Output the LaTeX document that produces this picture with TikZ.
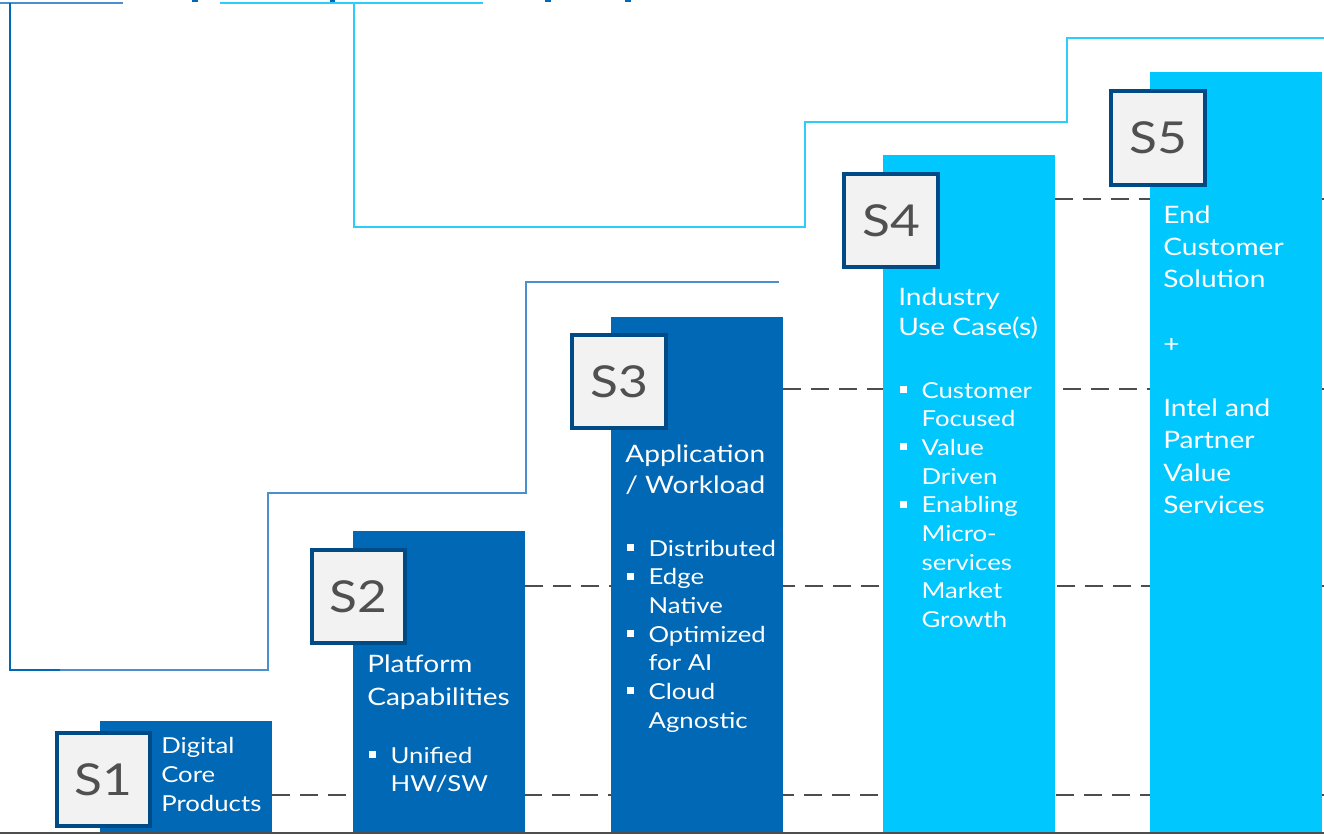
\documentclass[tikz,border=0pt]{standalone}
\usepackage{fontspec}
\setmainfont{Lato}[FakeStretch=1.17]
\definecolor{dblue}{HTML}{0068B5}
\definecolor{cblue}{HTML}{00C7FD}
\definecolor{sborder}{HTML}{004A86}
\definecolor{sfill}{HTML}{F2F2F2}
\definecolor{sgray}{HTML}{505050}
\definecolor{dgray}{HTML}{4D4D4D}
\definecolor{stepblue}{HTML}{4A90D0}
\definecolor{stepcyan}{HTML}{2ECCFA}
\newcommand\bul{\makebox[17.5pt][l]{\hspace{1pt}\raisebox{3.75pt}{\rule{5.25pt}{5.25pt}}}}
\newcommand\bitem{\par\hangindent17.5pt\hangafter1\noindent\bul}
\newcommand\lns[1]{\parbox[t]{200pt}{#1}}
\tikzset{
  sbox/.style={draw=sborder, line width=3pt, fill=sfill, minimum width=70pt, minimum height=70pt,
    inner sep=0pt, font=\fontsize{33pt}{33pt}\selectfont, text=sgray},
  txt/.style={anchor=base west, inner sep=0pt, text=white},
  head/.style={txt, font=\fontsize{18pt}{#1}\selectfont},
  blist/.style={txt, font=\fontsize{16.5pt}{21.5pt}\selectfont},
  guide/.style={dgray, line width=2pt, dash pattern=on 13.5pt off 7.5pt},
  stepline/.style={line width=1.5pt, stepblue},
  stepcline/.style={line width=1.5pt, stepcyan},
  barfill/.style={fill=#1, draw=none}
}
\begin{document}
\begin{tikzpicture}[x=0.75pt, y=-0.75pt]
\useasboundingbox (0,0) rectangle (1324,835);
% top fragments
\fill[dblue] (192,0) rectangle (198,2);
\fill[dblue] (330,0) rectangle (335,2);
\fill[dblue] (545,0) rectangle (551,2);
\fill[dblue] (625,0) rectangle (631,2);
% step outlines
\draw[stepline] (0,3) -- (123,3);
\draw[stepline] (10,3) -- (10,670) -- (268,670) -- (268,493) -- (526,493) -- (526,282) -- (779,282);
\draw[line width=1.5pt, dblue] (10,3) -- (10,670) -- (60,670);
\draw[stepcline] (220,3) -- (483,3);
\draw[stepcline] (354,3) -- (354,227) -- (805,227) -- (805,122) -- (1067,122) -- (1067,38) -- (1324,38);
% baseline
\draw[line width=2pt, dgray] (0,833) -- (1324,833);
% dashed guides
\coordinate (g1a) at (272,795); \coordinate (g1b) at (1324,795);
\coordinate (g2a) at (525,586); \coordinate (g2b) at (1324,586);
\coordinate (g3a) at (783,389); \coordinate (g3b) at (1324,389);
\coordinate (g4a) at (1055,199); \coordinate (g4b) at (1324,199);
\draw[guide] (g1a) -- (g1b);
\draw[guide] (g2a) -- (g2b);
\draw[guide] (g3a) -- (g3b);
\draw[guide] (g4a) -- (g4b);
% bars
\fill[barfill=dblue] (100,721) rectangle (272,832);
\fill[barfill=dblue] (353,531) rectangle (525,832);
\fill[barfill=dblue] (611,317) rectangle (783,832);
\fill[barfill=cblue] (883,155) rectangle (1055,832);
\fill[barfill=cblue] (1150,72) rectangle (1322,832);
% step boxes
\node[sbox] (s1) at (103.5,779.5) {S1};
\node[sbox] (s2) at (358.5,596.5) {S2};
\node[sbox] (s3) at (619,381.5) {S3};
\node[sbox] (s4) at (891,220.5) {S4};
\node[sbox] (s5) at (1158,138) {S5};
% texts
\node[txt, font=\fontsize{16.5pt}{21.75pt}\selectfont] (t1) at (161,753) {\lns{Digital\\Core\\Products}};
\node[head=24.75pt] (t2) at (367,672) {\lns{Platform\\Capabilities}};
\node[blist] (b2) at (367,763) {\lns{\bitem Unified\\HW/SW}};
\node[head=23.25pt] (t3) at (625,462) {\lns{Application\\/ Workload}};
\node[blist] (b3) at (625,556) {\lns{\bitem Distributed\bitem Edge\\Native\bitem Optimized\\for AI\bitem Cloud\\Agnostic}};
\node[head=22.5pt] (t4) at (898,305) {\lns{Industry\\Use Case(s)}};
\node[blist] (b4) at (898,398) {\lns{\bitem Customer\\Focused\bitem Value\\Driven\bitem Enabling\\Micro-\\services\\Market\\Growth}};
\node[head=24.2pt] (t5) at (1163,223) {\lns{End\\Customer\\Solution\\\mbox{}\\+\\\mbox{}\\Intel and\\Partner\\Value\\Services}};
\end{tikzpicture}
\end{document}
